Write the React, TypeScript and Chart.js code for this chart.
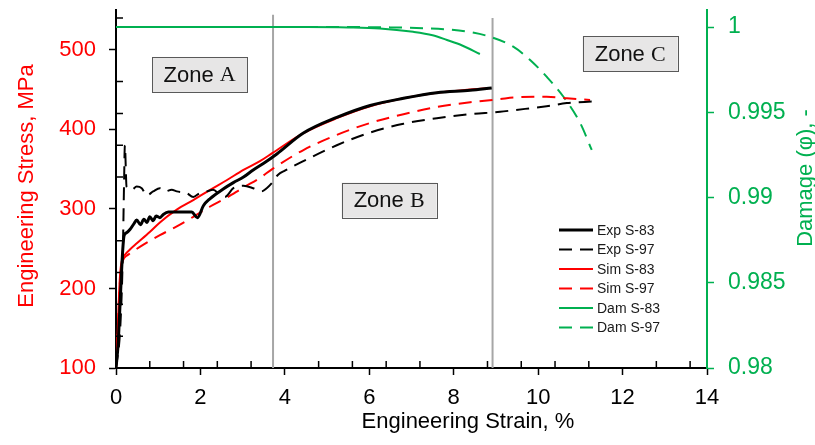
import React, { useEffect, useRef } from "react";
import { Chart, registerables } from "chart.js";

Chart.register(...registerables);

// ---------- data ----------
const expS83X = [0, 0.05, 0.1, 0.15, 0.19, 0.25, 0.33, 0.42, 0.49, 0.58, 0.66, 0.73, 0.8, 0.88, 0.95, 1.04, 1.12, 1.24, 1.4, 1.6, 1.79, 1.93, 2.07, 2.23, 2.54, 2.78, 3.02, 3.25, 3.49, 3.81, 4.43, 5.23, 6.02, 6.81, 7.6, 8.39, 8.9];
const expS83Y = [100, 130, 185, 240, 266, 270, 274, 281, 286, 280, 287, 283, 290, 285, 291, 289, 293, 296, 296, 296, 296, 289, 304, 313, 325, 333, 340, 349, 357, 369, 395, 415, 430, 439, 446, 449, 452];

const expS97X = [0, 0.1, 0.16, 0.19, 0.21, 0.25, 0.37, 0.49, 0.61, 0.73, 0.88, 1.04, 1.16, 1.32, 1.44, 1.67, 1.83, 1.99, 2.15, 2.3, 2.46, 2.58, 2.78, 3.02, 3.25, 3.45, 3.57, 3.7, 3.84, 4.0, 4.4, 5.23, 6.02, 6.81, 7.6, 8.39, 9.1, 9.41, 10.2, 10.68, 11.31];
const expS97Y = [100, 150, 240, 330, 380, 328, 324, 328, 326, 317, 322, 326, 322, 324, 322, 320, 315, 320, 322, 324, 318, 315, 326, 329, 326, 322, 326, 333, 343, 348, 359, 380, 396, 407, 414, 419, 422, 424, 429, 433, 435];

const simS83X = [0, 0.03, 0.06, 0.09, 0.12, 0.16, 0.22, 0.33, 0.5, 0.8, 1.04, 1.44, 1.83, 2.23, 2.62, 3.02, 3.41, 3.7, 4.43, 5.23, 6.02, 6.81, 7.6, 8.39, 8.88];
const simS83Y = [100, 130, 175, 212, 230, 238, 243, 249, 257, 271, 283, 299, 311, 324, 336, 349, 360, 370, 395, 414, 429, 439, 446, 450, 452];

const simS97X = [0, 0.03, 0.06, 0.09, 0.12, 0.17, 0.25, 0.33, 0.65, 1.04, 1.44, 1.83, 2.23, 2.62, 3.02, 3.41, 3.7, 4.44, 5.23, 6.02, 6.81, 7.6, 8.39, 9.1, 9.41, 10.2, 10.68, 11.23];
const simS97Y = [100, 130, 172, 205, 225, 236, 241, 244, 255, 267, 278, 290, 303, 314, 327, 339, 350, 374, 393, 408, 419, 428, 434, 438, 440, 441, 439, 437];

const damS83X = [0, 4.5, 5.5, 6.25, 7.04, 7.5, 7.84, 8.2, 8.62];
const damS83Y = [1, 1, 0.99998, 0.99992, 0.99972, 0.99952, 0.99924, 0.99892, 0.99842];

const damS97X = [0, 5, 6.5, 7.3, 7.84, 8.4, 8.86, 9.41, 9.81, 10.2, 10.6, 11.0, 11.27];
const damS97Y = [1, 1, 0.99998, 0.99993, 0.99986, 0.9997, 0.99943, 0.99885, 0.99807, 0.99709, 0.99591, 0.99435, 0.99279];

const zoneLineX = [3.72, 8.92];
const zoneLineTop = [544, 540];

const zoneLetters = ["A", "B", "C"];
const zoneX = [1.98, 6.47, 12.18];
const zoneY = [469, 311, 495];

const xTickValues = [0, 2, 4, 6, 8, 10, 12, 14];
const stressTickValues = [100, 200, 300, 400, 500];
const damageTickValues = [0.98, 0.985, 0.99, 0.995, 1];
const xMinorTicks = [0.8, 1.6, 2.4, 3.2, 4.8, 5.6, 6.4, 7.2, 8.8, 9.6, 10.4, 11.2, 12.8, 13.6];
const stressMinorTicks = [140, 180, 220, 260, 340, 380, 420, 460, 540];

// ---------- styles ----------
const RED = "#FF0000";
const GREEN = "#00B050";
const GRAY = "#A6A6A6";
const BLACK = "#000000";
const SANS = "'Liberation Sans', Arial, sans-serif";
const SERIF = "'Liberation Serif', 'Times New Roman', serif";
const DASH = [13, 8];

const pts = (xs: number[], ys: number[]) => xs.map((x, i) => ({ x, y: ys[i] }));

const decor = {
  id: "decor",
  afterDraw(chart: any) {
    const { ctx, chartArea: a, scales } = chart;
    const sx = scales.x;
    const sy = scales.y;
    ctx.save();

    // minor ticks (inside)
    ctx.strokeStyle = BLACK;
    ctx.lineWidth = 1.5;
    ctx.beginPath();
    xMinorTicks.forEach((v) => {
      const p = sx.getPixelForValue(v);
      ctx.moveTo(p, a.bottom);
      ctx.lineTo(p, a.bottom - 7);
    });
    stressMinorTicks.forEach((v) => {
      const p = sy.getPixelForValue(v);
      ctx.moveTo(a.left, p);
      ctx.lineTo(a.left + 7, p);
    });
    ctx.stroke();

    // zone boxes
    zoneLetters.forEach((l, i) => {
      const cx = sx.getPixelForValue(zoneX[i]);
      const cy = sy.getPixelForValue(zoneY[i]);
      const w = 95;
      const h = 35;
      ctx.fillStyle = "#E7E6E6";
      ctx.fillRect(cx - w / 2, cy - h / 2, w, h);
      ctx.strokeStyle = "#595959";
      ctx.lineWidth = 1;
      ctx.strokeRect(Math.round(cx - w / 2) + 0.5, Math.round(cy - h / 2) + 0.5, w, h);
      ctx.font = `22px ${SANS}`;
      const w1 = ctx.measureText("Zone ").width;
      ctx.font = `22px ${SERIF}`;
      const w2 = ctx.measureText(l).width;
      const x0 = cx - (w1 + w2) / 2;
      ctx.textBaseline = "middle";
      ctx.textAlign = "left";
      ctx.fillStyle = "#111111";
      ctx.font = `22px ${SANS}`;
      ctx.fillText("Zone ", x0, cy + 1);
      ctx.font = `22px ${SERIF}`;
      ctx.fillText(l, x0 + w1, cy + 1);
    });

    // legend
    const items = chart.data.datasets.filter((d: any) => d.inLegend);
    items.forEach((d: any, i: number) => {
      const y = 230 + i * 19.5;
      ctx.strokeStyle = d.borderColor;
      ctx.lineWidth = d.borderWidth;
      ctx.setLineDash(d.borderDash || []);
      ctx.beginPath();
      ctx.moveTo(559, y);
      ctx.lineTo(593, y);
      ctx.stroke();
      ctx.setLineDash([]);
      ctx.fillStyle = "#1a1a1a";
      ctx.font = `14px ${SANS}`;
      ctx.textAlign = "left";
      ctx.textBaseline = "middle";
      ctx.fillText(d.label, 597, y + 1);
    });

    // axis titles
    ctx.font = `22px ${SANS}`;
    ctx.textAlign = "center";
    ctx.textBaseline = "middle";
    ctx.fillStyle = BLACK;
    ctx.fillText("Engineering Strain, %", 468, 422);

    ctx.save();
    ctx.translate(27, 186);
    ctx.rotate(-Math.PI / 2);
    ctx.fillStyle = RED;
    ctx.fillText("Engineering Stress, MPa", 0, 0);
    ctx.restore();

    ctx.save();
    ctx.translate(806, 178);
    ctx.rotate(-Math.PI / 2);
    ctx.fillStyle = GREEN;
    ctx.fillText("Damage (φ), -", 0, 0);
    ctx.restore();

    ctx.restore();
  },
};

const zeroPad = (s: any) => {
  s.paddingTop = 0;
  s.paddingBottom = 0;
  s.paddingLeft = 0;
  s.paddingRight = 0;
};

export default function App() {
  const ref = useRef<HTMLCanvasElement | null>(null);

  useEffect(() => {
    document.body.style.margin = "0";
    const canvas = ref.current;
    if (!canvas) return;

    const line = (label: string, xs: number[], ys: number[], color: string, width: number, dashed: boolean, axis: string, smooth: boolean, inLegend = true) => ({
      label,
      data: pts(xs, ys),
      borderColor: color,
      backgroundColor: color,
      borderWidth: width,
      borderDash: dashed ? DASH : [],
      yAxisID: axis,
      pointRadius: 0,
      fill: false,
      cubicInterpolationMode: smooth ? "monotone" : "default",
      tension: 0,
      borderJoinStyle: "round",
      inLegend,
    });

    const chart = new Chart(canvas, {
      type: "line",
      data: {
        datasets: [
          line("Exp S-83", expS83X, expS83Y, BLACK, 3, false, "y", true),
          line("Exp S-97", expS97X, expS97Y, BLACK, 2, true, "y", true),
          line("Sim S-83", simS83X, simS83Y, RED, 2, false, "y", true),
          line("Sim S-97", simS97X, simS97Y, RED, 2, true, "y", true),
          line("Dam S-83", damS83X, damS83Y, GREEN, 2, false, "y1", true),
          line("Dam S-97", damS97X, damS97Y, GREEN, 2, true, "y1", true),
          line("Zone line 1", [zoneLineX[0], zoneLineX[0]], [100, zoneLineTop[0]], GRAY, 2, false, "y", false, false),
          line("Zone line 2", [zoneLineX[1], zoneLineX[1]], [100, zoneLineTop[1]], GRAY, 2, false, "y", false, false),
        ] as any,
      },
      options: {
        animation: false,
        responsive: true,
        maintainAspectRatio: false,
        layout: { padding: { top: 10, left: 0, right: 0, bottom: 0 } },
        plugins: { legend: { display: false }, tooltip: { enabled: false } },
        scales: {
          x: {
            type: "linear",
            min: 0,
            max: 14,
            afterBuildTicks: (s: any) => {
              s.ticks = xTickValues.map((v) => ({ value: v }));
            },
            afterFit: (s: any) => {
              s.height = 77;
              zeroPad(s);
            },
            ticks: { color: BLACK, font: { family: SANS, size: 22 }, padding: 10, maxRotation: 0, autoSkip: false },
            grid: { drawOnChartArea: false, drawTicks: true, tickLength: 7, tickColor: BLACK, tickWidth: 1.5 },
            border: { display: true, color: BLACK, width: 2 },
          },
          y: {
            type: "linear",
            position: "left",
            min: 100,
            max: 550,
            afterBuildTicks: (s: any) => {
              s.ticks = stressTickValues.map((v) => ({ value: v }));
            },
            afterFit: (s: any) => {
              s.width = 116;
              zeroPad(s);
            },
            ticks: { color: RED, font: { family: SANS, size: 22 }, padding: 13, autoSkip: false },
            grid: { drawOnChartArea: false, drawTicks: true, tickLength: 7, tickColor: BLACK, tickWidth: 1.5 },
            border: { display: true, color: BLACK, width: 2 },
          },
          y1: {
            type: "linear",
            position: "right",
            min: 0.98,
            max: 1.001,
            afterBuildTicks: (s: any) => {
              s.ticks = damageTickValues.map((v) => ({ value: v }));
            },
            afterFit: (s: any) => {
              s.width = 108;
              zeroPad(s);
            },
            ticks: {
              color: GREEN,
              font: { family: SANS, size: 23 },
              padding: 14,
              autoSkip: false,
              callback: (v: any) => String(Number(Number(v).toFixed(3))),
            },
            grid: { drawOnChartArea: false, drawTicks: true, tickLength: 7, tickColor: GREEN, tickWidth: 1.5 },
            border: { display: true, color: GREEN, width: 2 },
          },
        },
      } as any,
      plugins: [decor],
    });

    return () => chart.destroy();
  }, []);

  return (
    <div style={{ width: 815, height: 445, position: "relative", background: "#fff" }}>
      <canvas ref={ref} />
    </div>
  );
}
